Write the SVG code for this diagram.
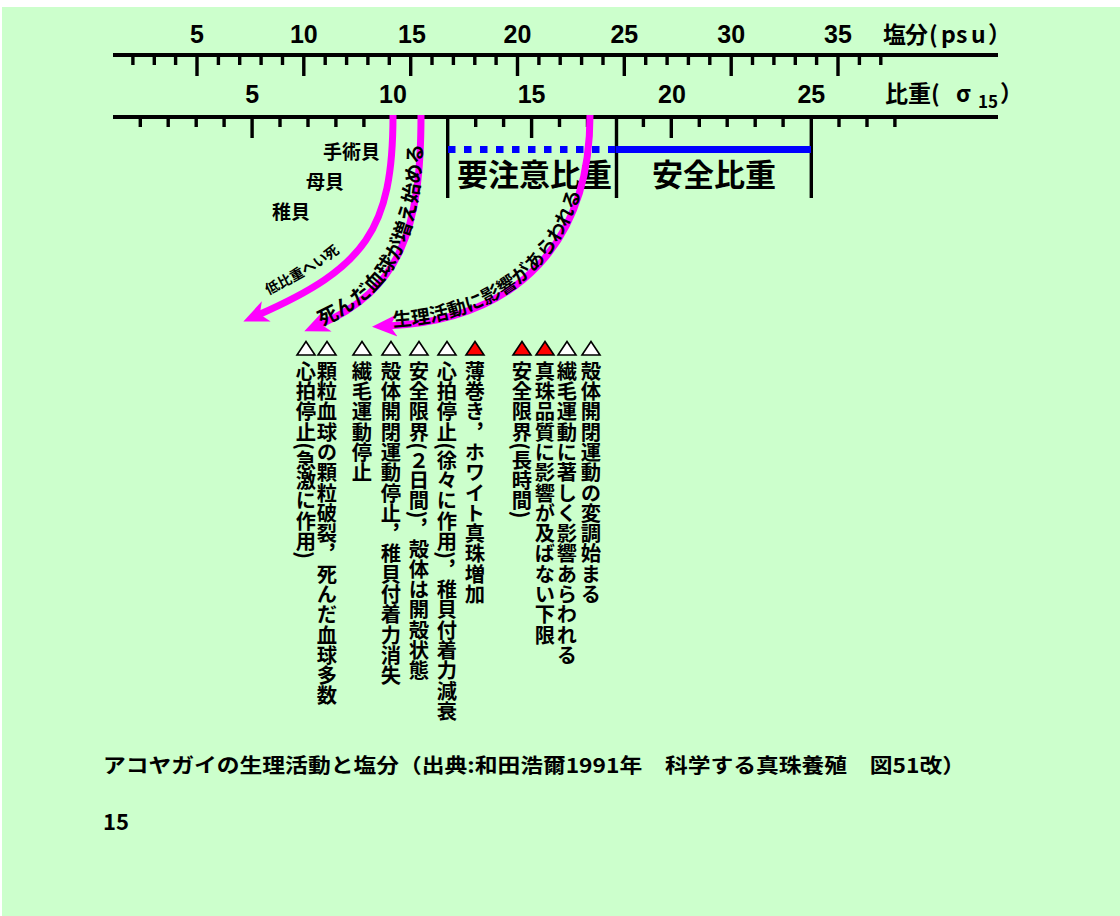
<svg xmlns="http://www.w3.org/2000/svg" width="1120" height="916" viewBox="0 0 1120 916">
<style>
.bg{fill:#CCFFCC}
.axis{stroke:#000;stroke-width:4;fill:none}
.tk{stroke:#000;stroke-width:3.4;fill:none}
.num{font-family:"Liberation Sans","Noto Sans CJK JP",sans-serif;font-weight:bold;font-size:25px;fill:#000;text-anchor:middle}
.jp{font-family:"Noto Sans CJK JP","Liberation Sans",sans-serif;font-weight:bold;fill:#000}
.v{font-family:"Noto Sans CJK JP","Liberation Sans",sans-serif;font-weight:bold;font-size:20.3px;fill:#000;writing-mode:vertical-rl}
.arr{stroke:#FF00FF;stroke-width:7;fill:none;marker-end:url(#ah)}
.tri{stroke:#000;stroke-width:1.6;stroke-linejoin:miter}
</style>
<defs>
<marker id="ah" markerUnits="userSpaceOnUse" markerWidth="40" markerHeight="40" refX="9" refY="12" orient="auto">
<path d="M0,1 L25,12 L0,23 L7,12 Z" fill="#FF00FF"/>
</marker>
<path id="tri" d="M0,-7 L9,6.5 L-9,6.5 Z"/>
<path id="tp1" d="M268,295 Q323,268 342,250"/>
<path id="tp2" d="M319,325 C400,290 421,230 421,117"/>
<path id="tp3" d="M388,326 C520,320 590,240 590,117"/>
</defs>
<rect class="bg" x="2" y="7" width="1118" height="909"/>

<g id="salinity-scale">
<line class="axis" x1="113" y1="55" x2="998" y2="55"/>
<path class="tk" d="M132.9,55V65M154.3,55V65M175.6,55V65M218.4,55V65M239.7,55V65M261.1,55V65M282.5,55V65M325.2,55V65M346.6,55V65M367.9,55V65M389.3,55V65M432,55V65M453.4,55V65M474.8,55V65M496.1,55V65M538.9,55V65M560.2,55V65M581.6,55V65M603,55V65M645.7,55V65M667.1,55V65M688.4,55V65M709.8,55V65M752.5,55V65M773.9,55V65M795.3,55V65M816.6,55V65M859.4,55V65M880.8,55V65"/>
<path class="tk" d="M197,55V76M303.8,55V76M410.7,55V76M517.5,55V76M624.3,55V76M731.2,55V76M838,55V76"/>
<text class="num" x="197" y="43">5</text>
<text class="num" x="303.8" y="43">10</text>
<text class="num" x="412" y="43">15</text>
<text class="num" x="517.5" y="43">20</text>
<text class="num" x="624.3" y="43">25</text>
<text class="num" x="731.2" y="43">30</text>
<text class="num" x="838" y="43">35</text>
<text class="jp" font-size="23" x="883 905 929 941 956 971 988" y="43">塩分(psu）</text>
</g>

<g id="density-scale">
<line class="axis" x1="113" y1="117" x2="998" y2="117"/>
<path class="tk" d="M140.3,117V127M168.2,117V127M196.2,117V127M224.1,117V127M280,117V127M308,117V127M335.9,117V127M363.9,117V127M419.8,117V127M475.7,117V127M503.6,117V127M559.5,117V127M587.5,117V127M643.4,117V127M699.3,117V127M727.2,117V127M755.2,117V127M783.1,117V127M839,117V127M867,117V127M894.9,117V127"/>
<path class="tk" d="M252.1,117V138M391.8,117V138M531.6,117V138M671.3,117V138"/>
<path class="tk" d="M447.7,117V198M616.5,117V198M811.3,117V198"/>
<text class="num" x="252.1" y="103">5</text>
<text class="num" x="393" y="103">10</text>
<text class="num" x="531.6" y="103">15</text>
<text class="num" x="672" y="103">20</text>
<text class="num" x="811.3" y="103">25</text>
<text class="jp" font-size="23" y="102"><tspan x="885">比重(</tspan><tspan x="956">σ</tspan><tspan x="978" y="108" font-size="17">15</tspan><tspan x="1000" y="102">）</tspan></text>
</g>

<g id="ranges">
<line x1="448" y1="149.5" x2="616" y2="149.5" stroke="#0000FF" stroke-width="7" stroke-dasharray="7.5 8.5"/>
<line x1="616" y1="149.5" x2="811" y2="149.5" stroke="#0000FF" stroke-width="7"/>
<text class="jp" font-size="31" x="457" y="186">要注意比重</text>
<text class="jp" font-size="31" x="652" y="186">安全比重</text>
</g>

<g id="shell-labels">
<text class="jp" font-size="19" x="323" y="159">手術貝</text>
<text class="jp" font-size="19" x="306" y="189">母貝</text>
<text class="jp" font-size="19" x="272" y="219">稚貝</text>
</g>

<g id="connectors">
<path class="arr" d="M393,115 C393,230 365,268 258,315"/>
<path class="arr" d="M421,115 C421,230 400,290 319,325"/>
<path class="arr" d="M590,115 C590,240 520,320 388,326"/>
</g>

<g id="arrow-labels">
<text class="jp" font-size="14"><textPath href="#tp1">低比重へい死</textPath></text>
<text class="jp" font-size="20" dy="2"><textPath href="#tp2" startOffset="2">死んだ血球が増え始める</textPath></text>
<text class="jp" font-size="19" dy="1"><textPath href="#tp3" startOffset="5">生理活動に影響があらわれる</textPath></text>
</g>

<g id="markers">
<use href="#tri" x="306" y="348.5" fill="#FFFFFF" class="tri"/>
<use href="#tri" x="327" y="348.5" fill="#FFFFFF" class="tri"/>
<use href="#tri" x="362" y="348.5" fill="#FFFFFF" class="tri"/>
<use href="#tri" x="391" y="348.5" fill="#FFFFFF" class="tri"/>
<use href="#tri" x="419" y="348.5" fill="#FFFFFF" class="tri"/>
<use href="#tri" x="447" y="348.5" fill="#FFFFFF" class="tri"/>
<use href="#tri" x="475" y="348.5" fill="#FF0000" class="tri"/>
<use href="#tri" x="522" y="348.5" fill="#FF0000" class="tri"/>
<use href="#tri" x="545" y="348.5" fill="#FF0000" class="tri"/>
<use href="#tri" x="567" y="348.5" fill="#FFFFFF" class="tri"/>
<use href="#tri" x="591" y="348.5" fill="#FFFFFF" class="tri"/>
</g>

<g id="effects">
<text class="v" x="306" y="361">心拍停止(急激に作用)</text>
<text class="v" x="327" y="361">顆粒血球の顆粒破裂，死んだ血球多数</text>
<text class="v" x="362" y="361">繊毛運動停止</text>
<text class="v" x="391" y="361">殻体開閉運動停止，稚貝付着力消失</text>
<text class="v" x="419" y="361">安全限界(２日間)，殻体は開殻状態</text>
<text class="v" x="447" y="361">心拍停止(徐々に作用)，稚貝付着力減衰</text>
<text class="v" x="475" y="361">薄巻き，ホワイト真珠増加</text>
<text class="v" x="522" y="361">安全限界(長時間)</text>
<text class="v" x="545" y="361">真珠品質に影響が及ばない下限</text>
<text class="v" x="567" y="361">繊毛運動に著しく影響あらわれる</text>
<text class="v" x="591" y="361">殻体開閉運動の変調始まる</text>
</g>

<g id="caption">
<text class="jp" font-size="20" x="103" y="773" textLength="862" lengthAdjust="spacingAndGlyphs">アコヤガイの生理活動と塩分（出典:和田浩爾1991年　科学する真珠養殖　図51改）</text>
<text class="jp" font-size="22" x="103" y="830">15</text>
</g>
</svg>
